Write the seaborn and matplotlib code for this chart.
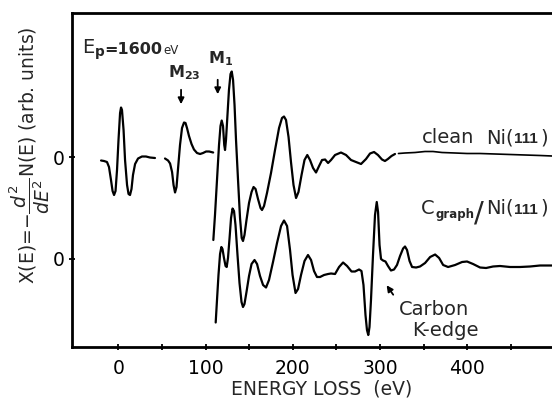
import numpy as np
import pandas as pd
import matplotlib
matplotlib.use("Agg")
import matplotlib.pyplot as plt
import seaborn as sns

# ---------------- data (energy loss in eV, X(E) in arb. units) ----------------
# clean Ni(111): elastic peak region
clean_a_e = [-19.8, -16.4, -13.0, -10.7, -8.4, -6.6, -4.9, -3.2, -1.5, 0.2, 2.0, 3.1, 4.2,
             6.0, 7.7, 10.0, 11.7, 13.4, 15.1, 16.8, 19.2, 22.6, 27.1, 31.7, 36.2, 42.0]
clean_a_x = [-0.30, -0.35, -0.45, -0.95, -2.25, -3.35, -3.75, -3.35, -1.25, 1.75, 4.45, 5.0, 4.75,
             2.75, -0.25, -2.75, -3.65, -3.75, -3.15, -1.75, -0.65, -0.1, 0.1, 0.1, 0.0, -0.05]
# clean Ni(111): M23 region
clean_b_e = [53.5, 57.0, 59.3, 61.6, 63.3, 65.0, 66.7, 68.5, 70.7, 73.0, 75.3, 77.0, 78.7,
             81.0, 83.9, 86.7, 90.2, 93.7, 97.1, 100.6, 104.1, 108.7]
clean_b_x = [-0.1, -0.3, -0.6, -1.45, -2.75, -3.5, -2.95, -1.05, 1.25, 2.95, 3.5, 3.45, 2.95,
             2.15, 1.35, 0.8, 0.45, 0.35, 0.45, 0.6, 0.6, 0.5]
# clean Ni(111): M1 and above
clean_c_e = [108.9, 110.8, 113.1, 115.4, 117.1, 118.5, 120.0, 121.4, 122.3, 123.4, 125.1, 126.8,
             128.6, 130.0, 131.5, 133.2, 134.9, 137.2, 139.5, 141.4, 142.9, 144.6, 146.9, 149.8,
             152.7, 155.0, 157.3, 160.1, 163.0, 164.7, 167.0, 170.4, 175.0, 179.6, 184.2, 187.6,
             189.9, 192.2, 195.1, 197.9, 200.8, 203.7, 206.5, 210.0, 213.4, 216.6, 219.7, 223.2,
             226.6, 230.1, 233.5, 237.0, 240.4, 243.8, 248.4, 255.2, 261.0, 266.7, 272.4, 278.2,
             283.9, 288.5, 293.1, 297.6, 302.2, 305.6, 309.0, 313.1, 317.1]
clean_c_x = [-8.25, -5.75, -2.25, 1.25, 3.15, 3.7, 3.15, 1.25, 0.75, 1.75, 4.25, 6.75,
             8.35, 8.6, 7.75, 5.25, 1.75, -2.25, -6.05, -8.05, -8.35, -7.75, -6.25, -4.55,
             -3.45, -2.95, -3.15, -4.15, -5.05, -5.25, -4.85, -3.55, -1.55, 0.75, 2.95, 3.95,
             4.1, 3.75, 2.05, -0.45, -2.75, -4.05, -3.45, -1.75, -0.25, 0.25, -0.25, -1.05,
             -1.5, -0.85, -0.25, -0.2, -0.55, -0.25, 0.25, 0.5, 0.25, -0.25, -0.45, -0.65,
             -0.15, 0.4, 0.55, 0.25, -0.2, -0.35, -0.15, 0.15, 0.35]
# clean Ni(111): high-energy tail
clean_d_e = [321.1, 328.6, 340.1, 351.5, 360.7, 371.0, 385.9, 399.7, 414.6, 431.8, 449.0,
             466.2, 483.4, 497.2, 505.0]
clean_d_x = [0.4, 0.45, 0.5, 0.6, 0.6, 0.5, 0.45, 0.4, 0.4, 0.35, 0.3, 0.25, 0.2, 0.15, 0.1]

# C_graph / Ni(111)
graph_e = [111.6, 113.1, 114.8, 116.6, 118.1, 119.4, 121.1, 122.9, 124.2, 125.7, 127.5, 129.2,
           130.9, 132.6, 134.3, 136.6, 138.9, 141.2, 142.9, 144.6, 146.9, 149.8, 152.7, 156.1,
           159.0, 162.4, 165.9, 169.3, 172.7, 177.3, 181.9, 186.5, 189.9, 193.4, 196.8, 199.7,
           203.1, 206.0, 209.4, 213.4, 217.4, 220.9, 224.3, 227.7, 231.2, 235.8, 240.4, 243.8,
           248.4, 253.0, 257.6, 262.2, 267.3, 271.3, 275.9, 278.7, 281.0, 283.3, 285.0, 286.5,
           287.9, 289.6, 291.9, 294.2, 296.2, 297.7, 299.4, 301.1, 303.4, 306.2, 309.1, 312.5,
           316.0, 319.4, 322.9, 326.4, 328.6, 330.9, 333.8, 336.7, 341.3, 345.8, 351.6, 357.4,
           363.1, 367.7, 372.3, 378.0, 386.0, 394.0, 399.7, 406.6, 414.6, 421.5, 429.5, 437.5,
           449.0, 460.4, 471.9, 483.4, 497.2, 505.0]
graph_x = [-6.35, -4.1, -1.6, 0.5, 1.2, 1.0, 0.1, -0.7, -0.8, 0.1, 2.1, 4.1,
           5.05, 4.8, 3.4, 0.4, -2.4, -4.3, -4.8, -4.5, -3.3, -1.7, -0.5, -0.1,
           -0.5, -1.7, -2.6, -2.85, -2.1, -0.3, 1.6, 3.3, 3.85, 3.3, 0.9, -1.6,
           -3.4, -3.0, -1.6, -0.2, 0.4, -0.1, -1.2, -1.8, -1.8, -1.6, -1.5, -1.45,
           -1.5, -0.8, -0.35, -0.7, -1.25, -1.25, -1.05, -1.2, -2.6, -5.6, -7.1, -7.6,
           -6.8, -4.1, 0.4, 4.4, 5.7, 4.7, 1.4, 0.0, -0.15, -0.25, -0.7, -1.15,
           -1.05, -0.6, 0.3, 1.05, 1.25, 0.9, -0.2, -0.8, -0.85, -0.75, -0.4, 0.2,
           0.45, 0.1, -0.6, -0.8, -0.6, -0.3, -0.25, -0.5, -0.85, -0.9, -0.75, -0.7,
           -0.8, -0.8, -0.75, -0.65, -0.65, -0.65]

GRAPH_OFFSET = -10.15  # vertical shift of the C_graph/Ni(111) curve

x_major = [0, 100, 200, 300, 400]
x_major_labels = ["0", "100", "200", "300", "400"]
x_minor = [50, 150, 250, 350, 450]

# ---------------- style ----------------
sns.set_style("ticks")
plt.rcParams['font.family'] = ['DejaVu Sans']
plt.rcParams['mathtext.fontset'] = 'dejavusans'

fig = plt.figure(figsize=(5.52, 4.11), dpi=100)
ax = fig.add_axes([72 / 552, (411 - 347) / 411, 500 / 552, 334 / 411])

LW = 1.6
segments = [(clean_a_e, clean_a_x, 0.0, LW), (clean_b_e, clean_b_x, 0.0, LW),
            (clean_c_e, clean_c_x, 0.0, LW), (clean_d_e, clean_d_x, 0.0, 1.2),
            (graph_e, graph_x, GRAPH_OFFSET, LW)]
for e, xv, off, lw in segments:
    df = pd.DataFrame({"E": e, "X": np.asarray(xv) + off})
    sns.lineplot(data=df, x="E", y="X", ax=ax, color="black", lw=lw,
                 sort=False, estimator=None)

ax.set_xlim(-53.1, 520)
ax.set_ylim(-18.95, 14.45)

ax.set_xticks(x_major)
ax.set_xticklabels(x_major_labels)
ax.set_xticks(x_minor, minor=True)
ax.set_yticks([0, GRAPH_OFFSET])
ax.set_yticklabels(["0", "0"])
ax.tick_params(axis="both", which="both", direction="inout", length=5, width=1.3,
               labelsize=13.5, color="black", labelcolor="black")
ax.tick_params(axis="x", which="both", pad=6)
ax.tick_params(axis="y", which="both", pad=3)

for s in ["left", "top", "bottom"]:
    ax.spines[s].set_linewidth(2.0)
    ax.spines[s].set_color("black")
ax.spines["right"].set_visible(False)

ax.set_xlabel("ENERGY LOSS  (eV)", fontsize=13.5, labelpad=1)
ax.set_ylabel(r"X(E)=$-\dfrac{d^2}{dE^2}$N(E) (arb. units)", fontsize=13.5)
ax.yaxis.set_label_coords(-0.040, 0.575)

# ---------------- annotations ----------------
ax.text(-41.5, 10.35, r"E$_{\mathbf{p}}$", fontsize=14, ha="left", va="baseline")
ax.text(-15.6, 10.35, "=1600", fontsize=11.5, fontweight="bold", ha="left", va="baseline")
ax.text(51.4, 10.35, "eV", fontsize=8.5, ha="left", va="baseline")

ax.text(57.0, 8.05, r"$\mathbf{M}_{\mathbf{23}}$", fontsize=11.5, ha="left", va="baseline")
ax.annotate("", xy=(71.9, 5.05), xytext=(71.9, 7.05),
            arrowprops=dict(arrowstyle="-|>", color="black", lw=1.3, mutation_scale=9))
ax.text(103.0, 9.45, r"$\mathbf{M}_{\mathbf{1}}$", fontsize=11.5, ha="left", va="baseline")
ax.annotate("", xy=(113.9, 6.05), xytext=(113.9, 8.05),
            arrowprops=dict(arrowstyle="-|>", color="black", lw=1.3, mutation_scale=9))

# clean Ni(111)
ax.text(348.1, 1.45, "clean", fontsize=14, ha="left", va="baseline")
ax.text(421.4, 1.45, "Ni(", fontsize=14, ha="left", va="baseline")
ax.text(453.0, 1.45, "111", fontsize=11, fontweight="bold", family="Liberation Sans",
        ha="left", va="baseline")
ax.text(483.5, 1.45, ")", fontsize=14, ha="left", va="baseline")

# C_graph / Ni(111)
ax.text(346.9, -5.65, "C", fontsize=14, ha="left", va="baseline")
ax.text(363.0, -6.05, "graph", fontsize=8.5, fontweight="bold", ha="left", va="baseline")
ax.text(407.7, -6.35, "/", fontsize=21, ha="left", va="baseline")
ax.text(421.4, -5.65, "Ni(", fontsize=14, ha="left", va="baseline")
ax.text(453.0, -5.65, "111", fontsize=11, fontweight="bold", family="Liberation Sans",
        ha="left", va="baseline")
ax.text(483.5, -5.65, ")", fontsize=14, ha="left", va="baseline")

ax.text(322.0, -15.75, "Carbon", fontsize=14, ha="left", va="baseline")
ax.text(337.0, -17.85, "K-edge", fontsize=14, ha="left", va="baseline")
ax.annotate("", xy=(305.7, -12.55), xytext=(316.9, -13.95),
            arrowprops=dict(arrowstyle="-|>", color="black", lw=1.3, mutation_scale=9))

fig.savefig("out.png", dpi=100)
